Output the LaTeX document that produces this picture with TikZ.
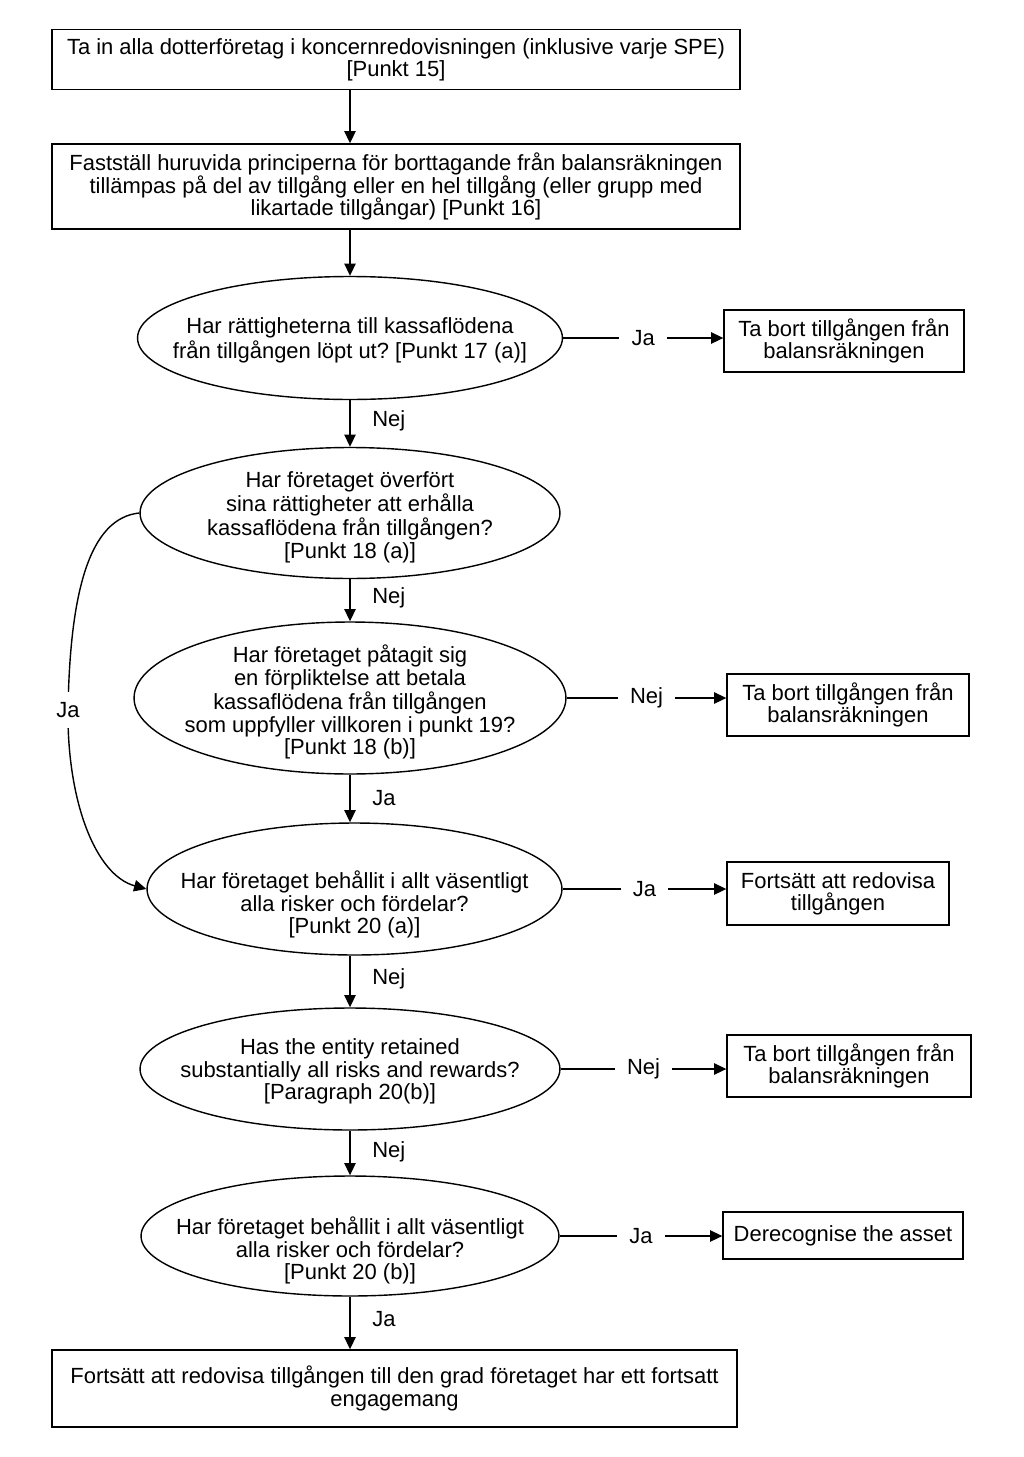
\documentclass[tikz,border=0pt]{standalone}
\usepackage{fontspec}
\setmainfont{Liberation Sans}
\usepackage{tikz}
\usetikzlibrary{arrows.meta, positioning, shapes.geometric}
\frenchspacing

% text of a decision, kept from widening the ellipse (optional: lowered)
\newcommand{\qtext}[2][-5pt]{\raisebox{#1}[0pt][0pt]{\makebox[0pt]{\begin{tabular}{@{}c@{}}#2\end{tabular}}}}

\begin{document}
\begin{tikzpicture}[x=0.02cm,y=-0.02cm,
  font=\fontsize{12.5}{12.7}\selectfont,
  box/.style={draw, line width=0.8pt, rectangle, align=center, inner sep=0pt},
  decision/.style={draw, line width=0.8pt, ellipse, inner sep=0pt},
  arr/.style={line width=0.8pt, -{Triangle[length=7pt,width=6.5pt]}},
  hlbl/.style={fill=white, inner xsep=7pt, inner ysep=2pt},
  vlbl/.style={right=9pt}]
  \useasboundingbox (0,0) rectangle (1024,1457);

  % main column
  \node[box, minimum width=13.76cm, minimum height=1.2cm] (B1) at (396,59.5)
    {Ta in alla dotterföretag i koncernredovisningen (inklusive varje SPE)\\ {[Punkt 15]}};
  \node[box, minimum width=13.76cm, minimum height=1.7cm] (B2) at (396,186.5)
    {Fastställ huruvida principerna för borttagande från balansräkningen\\
     tillämpas på del av tillgång eller en hel tillgång (eller grupp med\\
     likartade tillgångar) [Punkt 16]};
  \node[decision, minimum width=8.5cm, minimum height=2.46cm] (E1) at (350,338)
    {\qtext{Har rättigheterna till kassaflödena\\ från tillgången löpt ut? [Punkt 17 (a)]}};
  \node[decision, minimum width=8.4cm, minimum height=2.62cm] (E2) at (350,513)
    {\qtext[-6pt]{Har företaget överfört\\ sina rättigheter att erhålla\\ kassaflödena från tillgången?\\ {[Punkt 18 (a)]}}};
  \node[decision, minimum width=8.64cm, minimum height=3.04cm] (E3) at (350,698)
    {\qtext[-6pt]{Har företaget påtagit sig\\ en förpliktelse att betala\\ kassaflödena från tillgången\\ som uppfyller villkoren i punkt 19?\\ {[Punkt 18 (b)]}}};
  \node[decision, minimum width=8.3cm, minimum height=2.64cm] (E4) at (354.5,889)
    {\qtext[-12.5pt]{Har företaget behållit i allt väsentligt\\ alla risker och fördelar?\\ {[Punkt 20 (a)]}}};
  \node[decision, minimum width=8.4cm, minimum height=2.44cm] (E5) at (350,1069)
    {\qtext{Has the entity retained\\ substantially all risks and rewards?\\ {[Paragraph 20(b)]}}};
  \node[decision, minimum width=8.36cm, minimum height=2.4cm] (E6) at (350,1236)
    {\qtext[-12pt]{Har företaget behållit i allt väsentligt\\ alla risker och fördelar?\\ {[Punkt 20 (b)]}}};
  \node[box, minimum width=13.7cm, minimum height=1.54cm] (B3) at (394.5,1388.5)
    {Fortsätt att redovisa tillgången till den grad företaget har ett fortsatt\\ engagemang};

  % outcomes on the right
  \node[box, minimum width=4.8cm, minimum height=1.24cm] (R1) at (844,341)
    {Ta bort tillgången från\\ balansräkningen};
  \node[box, minimum width=4.84cm, minimum height=1.24cm] (R2) at (848,705)
    {Ta bort tillgången från\\ balansräkningen};
  \node[box, minimum width=4.44cm, minimum height=1.26cm] (R3) at (838,893.5)
    {Fortsätt att redovisa\\ tillgången};
  \node[box, minimum width=4.88cm, minimum height=1.24cm] (R4) at (849,1066)
    {Ta bort tillgången från\\ balansräkningen};
  \node[box, minimum width=4.8cm, minimum height=0.94cm] (R5) at (843,1235.5)
    {Derecognise the asset};

  % down the column
  \draw[arr] (B1.south -| E1) -- (B2.north -| E1);
  \draw[arr] (B2.south -| E1) -- (E1.north);
  \draw[arr] (E1.south) -- node[vlbl, pos=0.45] {Nej} (E2.north);
  \draw[arr] (E2.south) -- node[vlbl, pos=0.45] {Nej} (E3.north);
  \draw[arr] (E3.south) -- node[vlbl, pos=0.5] {Ja} (E3.south |- E4.north);
  \draw[arr] (E4.south -| E3) -- node[vlbl, pos=0.45] {Nej} (E5.north);
  \draw[arr] (E5.south) -- node[vlbl, pos=0.48] {Nej} (E6.north);
  \draw[arr] (E6.south) -- node[vlbl, pos=0.42] {Ja} (E6.south |- B3.north);

  % across to the outcomes
  \draw[arr] (E1.east) -- node[hlbl] {Ja} (E1.east -| R1.west);
  \draw[arr] (E3.east) -- node[hlbl] {Nej} (E3.east -| R2.west);
  \draw[arr] (E4.east) -- node[hlbl] {Ja} (E4.east -| R3.west);
  \draw[arr] (E5.east) -- node[hlbl] {Nej} (E5.east -| R4.west);
  \draw[arr] (E6.east) -- node[hlbl] {Ja} (E6.east -| R5.west);

  % shortcut on the left
  \draw[arr] (E2.west) .. controls (90,518) and (70,590) .. (68,710)
    node[hlbl, inner xsep=2pt, inner ysep=6pt] (jaL) {Ja}
    .. controls (67,800) and (95,875) .. (E4.west);
\end{tikzpicture}
\end{document}
